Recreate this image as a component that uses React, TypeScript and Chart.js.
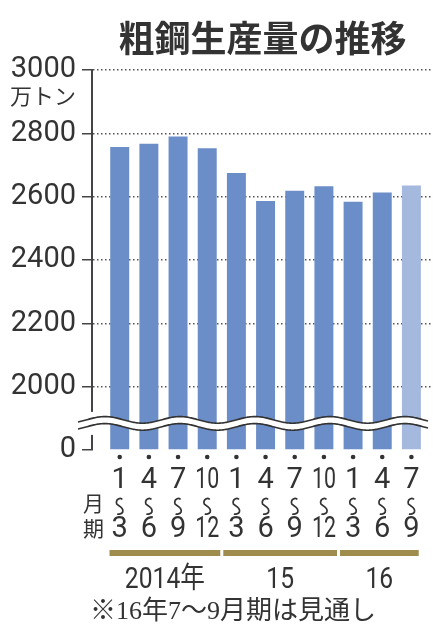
import React, { useEffect, useRef } from "react";
import { Chart, registerables } from "chart.js";

Chart.register(...registerables);

// ---- data ----
const chartTitle = "粗鋼生産量の推移";
const unitLabel = "万トン";
const startMonths = ["1", "4", "7", "10", "1", "4", "7", "10", "1", "4", "7"];
const endMonths = ["3", "6", "9", "12", "3", "6", "9", "12", "3", "6", "9"];
const production = [2757, 2767, 2790, 2753, 2675, 2586, 2619, 2633, 2584, 2613, 2635];
const isForecast = [false, false, false, false, false, false, false, false, false, false, true];
const yearLabels = ["2014年", "15", "16"];
const yearGroupSizes = [4, 4, 3];
const yTickValues = [0, 2000, 2200, 2400, 2600, 2800, 3000];
const monthWord = "月";
const periodWord = "期";
const footnote = "※16年7～9月期は見通し";

// axis break: 0..2000 is compressed into one 200-step
const breakLow = 2000;
const breakGap = 200;
const yMaxValue = 3000;
const toAxis = (v: number) => (v >= breakLow ? v - breakLow + breakGap : (v * breakGap) / breakLow);
const fromAxis = (a: number) => (a >= breakGap ? a - breakGap + breakLow : (a * breakLow) / breakGap);

const BAR = "#6b8dc8";
const BAR_LIGHT = "#a5b8dd";
const INK = "#333333";
const GOLD = "#9e8d4d";

const decorPlugin = {
  id: "decor",
  afterDraw(chart: any) {
    const { ctx, chartArea: ca, scales } = chart;
    const x = scales.x;
    const y = scales.y;
    ctx.save();

    // ---- axis break band ----
    const y0 = y.getPixelForValue(0);
    const yb = y.getPixelForValue(breakGap);
    const mid = y0 * 0.58 + yb * 0.42;
    ctx.fillStyle = "#ffffff";
    ctx.fillRect(ca.left - 3, mid - 11.5, 6, 23);
    const xs = ca.left - 14;
    const xe = ca.right - 5;
    const period = 75;
    const amp = 3.3;
    const crest = ca.left + 13;
    const wave = (px: number, off: number) =>
      mid + off - amp * Math.cos((2 * Math.PI * (px - crest)) / period);
    ctx.beginPath();
    for (let px = xs; px <= xe; px += 1) {
      const py = wave(px, -3.5);
      if (px === xs) ctx.moveTo(px, py);
      else ctx.lineTo(px, py);
    }
    for (let px = xe; px >= xs; px -= 1) ctx.lineTo(px, wave(px, 3.5));
    ctx.closePath();
    ctx.fill();
    ctx.strokeStyle = INK;
    ctx.lineWidth = 1.6;
    for (const off of [-3.5, 3.5]) {
      ctx.beginPath();
      for (let px = xs; px <= xe; px += 1) {
        const py = wave(px, off);
        if (px === xs) ctx.moveTo(px, py);
        else ctx.lineTo(px, py);
      }
      ctx.stroke();
    }

    // ---- dots and month labels ----
    ctx.fillStyle = INK;
    ctx.textAlign = "center";
    ctx.textBaseline = "alphabetic";
    ctx.font = "29px Roboto, 'Liberation Sans', sans-serif";
    production.forEach((_, i) => {
      const cx = x.getPixelForValue(i);
      ctx.beginPath();
      ctx.arc(cx, ca.bottom + 7, 2.3, 0, Math.PI * 2);
      ctx.fill();
      const s = startMonths[i];
      const e = endMonths[i];
      if (s.length > 1) ctx.fillText(s, cx, ca.bottom + 38, 24);
      else ctx.fillText(s, cx, ca.bottom + 38);
      if (e.length > 1) ctx.fillText(e, cx, ca.bottom + 87, 24);
      else ctx.fillText(e, cx, ca.bottom + 87);
      // vertical wave (S-shaped range mark)
      const t = ca.bottom + 48;
      const b = ca.bottom + 64;
      const m = (t + b) / 2;
      ctx.beginPath();
      ctx.lineWidth = 1.7;
      ctx.moveTo(cx + 2.5, t + 1.5);
      ctx.bezierCurveTo(cx + 1, t - 1, cx - 4.5, t + 1, cx - 3, m - 2);
      ctx.bezierCurveTo(cx - 1.5, m, cx + 4.5, m + 1, cx + 3, b - 2);
      ctx.bezierCurveTo(cx + 2, b, cx - 1, b + 0.5, cx - 2.5, b);
      ctx.stroke();
    });

    ctx.font = "21px 'Noto Sans CJK JP', sans-serif";
    ctx.textBaseline = "middle";
    ctx.fillText(monthWord, ca.left + 1.5, ca.bottom + 53);
    ctx.fillText(periodWord, ca.left + 1.5, ca.bottom + 78);

    // ---- year bars and labels ----
    let start = 0;
    yearGroupSizes.forEach((size, g) => {
      const end = start + size - 1;
      const left = g === 0 ? x.getPixelForValue(start - 0.35) : x.getPixelForValue(start - 0.5) + 1.5;
      const right =
        g === yearGroupSizes.length - 1 ? x.getPixelForValue(end + 0.25) : x.getPixelForValue(end + 0.5) - 1.5;
      ctx.fillStyle = GOLD;
      ctx.fillRect(left, ca.bottom + 100, right - left, 6);
      ctx.fillStyle = INK;
      ctx.save();
      ctx.translate((left + right) / 2, ca.bottom + 138);
      ctx.scale(0.85, 1);
      ctx.font = "29px Roboto, 'Noto Sans CJK JP', sans-serif";
      ctx.textAlign = "center";
      ctx.textBaseline = "alphabetic";
      ctx.fillText(yearLabels[g], 0, 0);
      ctx.restore();
      start += size;
    });

    // ---- title, unit, footnote ----
    ctx.fillStyle = INK;
    ctx.textAlign = "center";
    ctx.textBaseline = "middle";
    ctx.font = "bold 36px 'Noto Sans CJK JP', sans-serif";
    ctx.fillText(chartTitle, (ca.left + ca.right) / 2, 38);

    ctx.textAlign = "right";
    ctx.font = "22px 'Noto Sans CJK JP', sans-serif";
    ctx.fillText(unitLabel, ca.left - 16, y.getPixelForValue(toAxis(yMaxValue)) + 26);

    ctx.textAlign = "center";
    ctx.font = "26px 'Liberation Serif', 'Noto Sans CJK JP', serif";
    ctx.fillText(footnote, 233, ca.bottom + 162);

    ctx.restore();
  },
};

export default function App() {
  const canvasRef = useRef<HTMLCanvasElement | null>(null);

  useEffect(() => {
    const canvas = canvasRef.current;
    if (!canvas) return;
    const chart = new Chart(canvas, {
      type: "bar",
      data: {
        datasets: [
          {
            data: production.map((v, i) => ({ x: i, y: toAxis(v) })),
            backgroundColor: isForecast.map((f) => (f ? BAR_LIGHT : BAR)),
            borderWidth: 0,
            barPercentage: 0.65,
            categoryPercentage: 1,
          },
        ],
      },
      options: {
        responsive: false,
        animation: false,
        devicePixelRatio: 1,
        layout: { padding: { top: 70, bottom: 190, left: 0, right: 9 } },
        plugins: {
          legend: { display: false },
          tooltip: { enabled: false },
          title: { display: false },
        },
        scales: {
          x: {
            type: "linear",
            display: false,
            offset: false,
            min: -0.95,
            max: 10.74,
          },
          y: {
            type: "linear",
            min: 0,
            max: toAxis(yMaxValue),
            afterFit: (s: any) => {
              s.width = 92;
            },
            afterBuildTicks: (s: any) => {
              s.ticks = yTickValues.map((v) => ({ value: toAxis(v) }));
            },
            ticks: {
              callback: (val: any) => String(Math.round(fromAxis(Number(val)))),
              font: { family: "Roboto, 'Liberation Sans', sans-serif", size: 29 },
              color: INK,
              padding: 6,
            },
            grid: {
              color: (c: any) => (c.tick && c.tick.value === 0 ? "rgba(0,0,0,0)" : "#555555"),
              lineWidth: 1.5,
              tickColor: "#444444",
              tickLength: 10,
              tickWidth: 1.5,
              tickBorderDash: [],
            },
            border: { display: true, color: "#444444", width: 2, dash: [1.5, 2.5] },
          },
        },
      },
      plugins: [decorPlugin],
    } as any);
    return () => chart.destroy();
  }, []);

  return (
    <div style={{ position: "absolute", left: 0, top: 0, width: 442, height: 640, background: "#fff" }}>
      <canvas ref={canvasRef} width={442} height={640} />
    </div>
  );
}
